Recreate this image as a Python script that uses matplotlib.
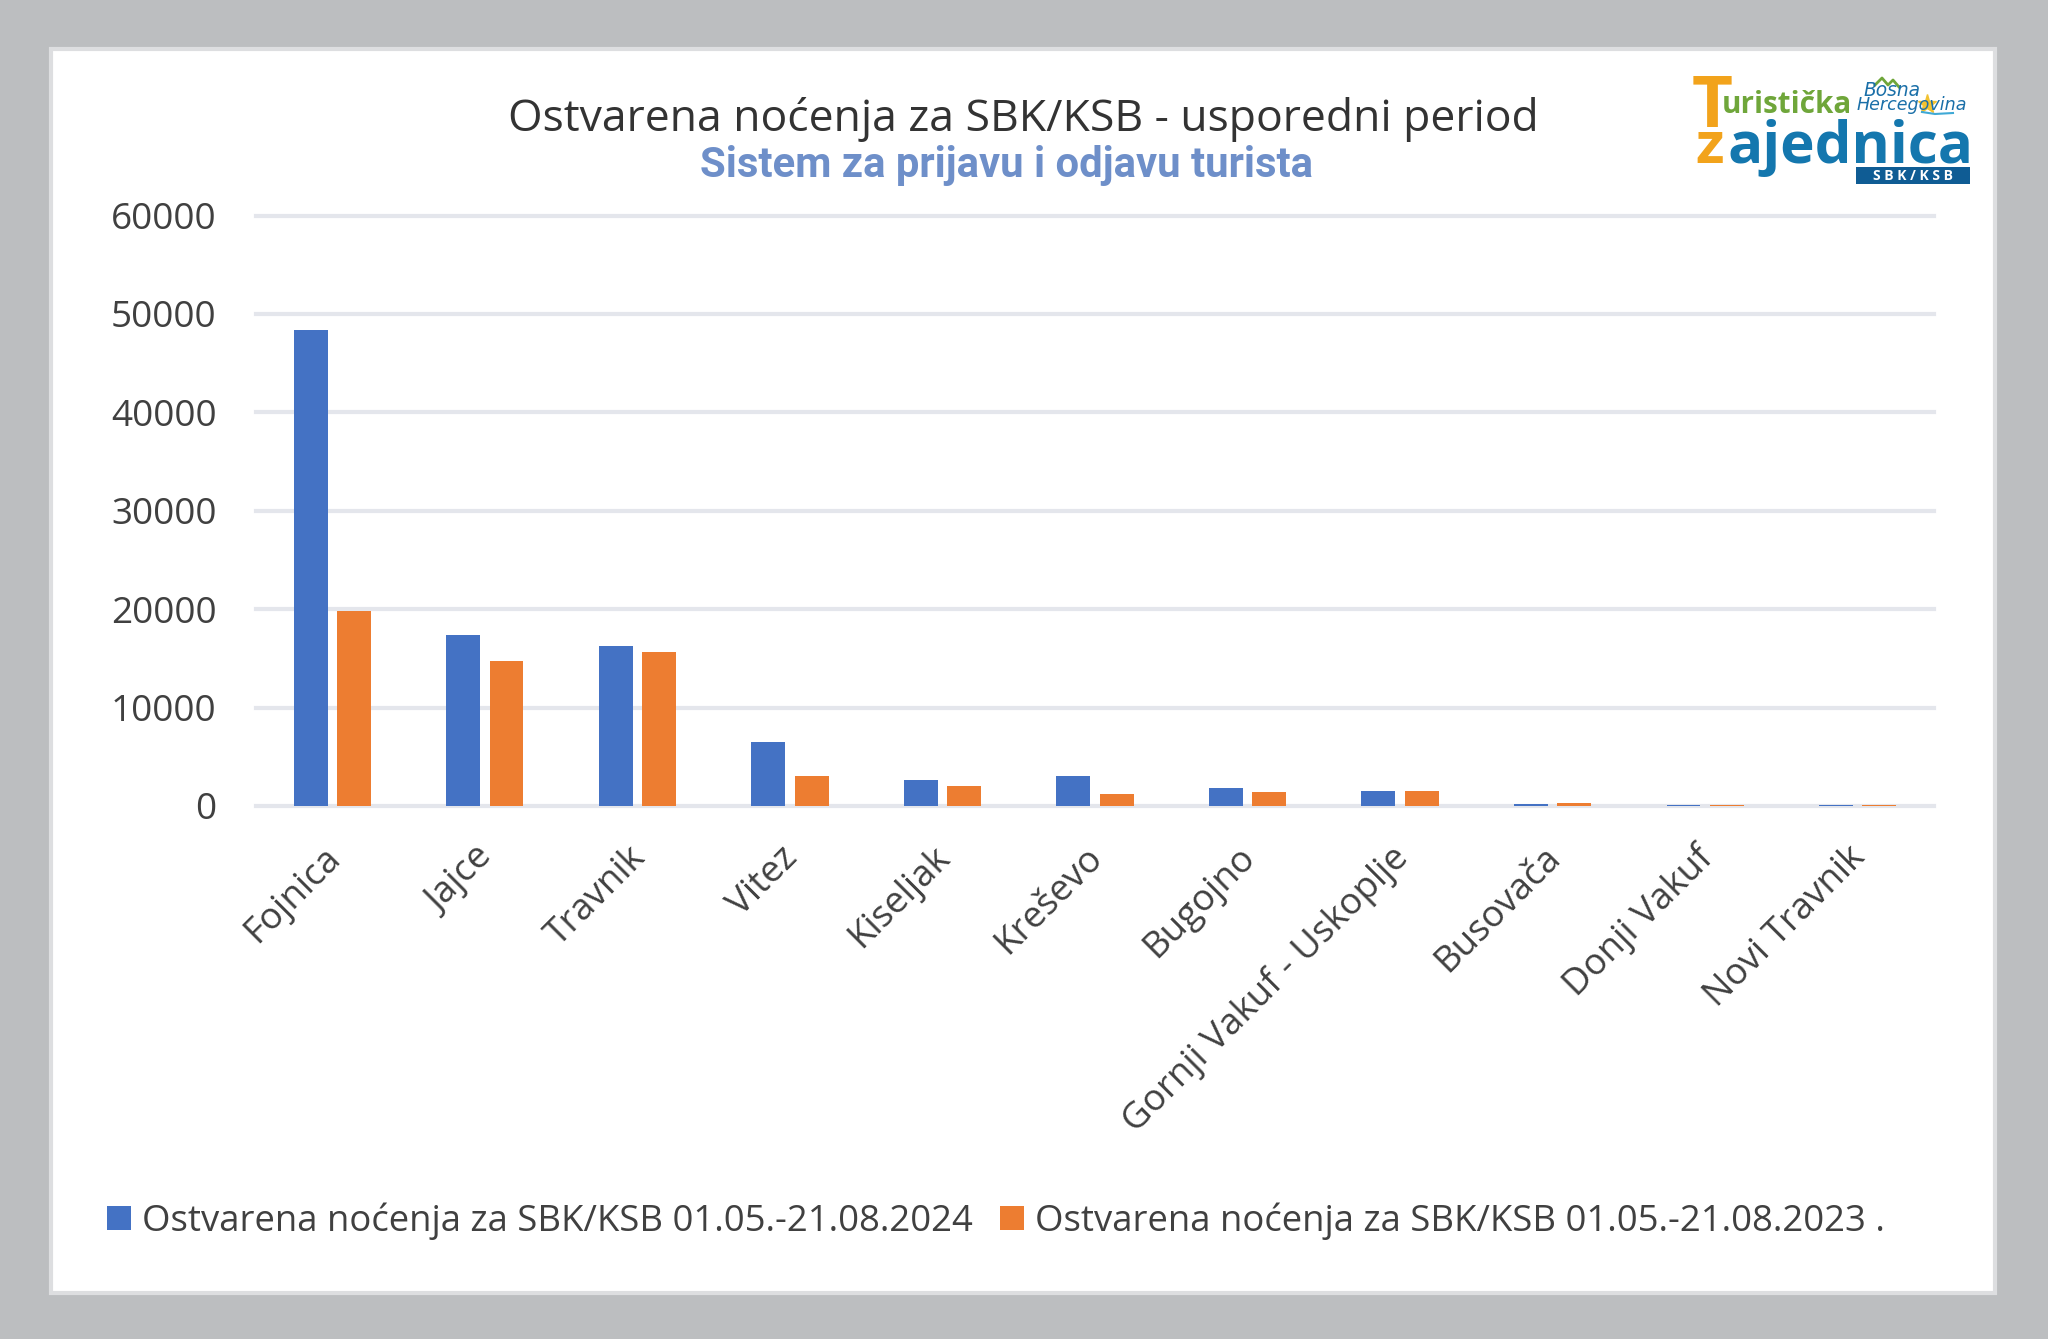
import matplotlib
matplotlib.use("Agg")
import matplotlib.pyplot as plt
from matplotlib.lines import Line2D
from matplotlib.patches import Rectangle
from matplotlib.transforms import ScaledTranslation
import numpy as np

W, H = 2048, 1339
categories = ["Fojnica", "Jajce", "Travnik", "Vitez", "Kiseljak", "Kreševo", "Bugojno",
              "Gornji Vakuf - Uskoplje", "Busovača", "Donji Vakuf", "Novi Travnik"]
values_2024 = [48400, 17400, 16300, 6500, 2600, 3000, 1800, 1500, 250, 100, 100]
values_2023 = [19800, 14700, 15600, 3000, 2000, 1200, 1400, 1500, 300, 100, 100]
y_ticks = [0, 10000, 20000, 30000, 40000, 50000, 60000]
label_2024 = "Ostvarena noćenja za SBK/KSB 01.05.-21.08.2024"
label_2023 = "Ostvarena noćenja za SBK/KSB 01.05.-21.08.2023 ."
title = "Ostvarena noćenja za SBK/KSB - usporedni period"
subtitle = "Sistem za prijavu i odjavu turista"

plt.rcParams['font.family'] = ['Open Sans', 'DejaVu Sans']
fig = plt.figure(figsize=(W/100, H/100), dpi=100, facecolor="#BCBEC0")

def fx(x): return x / W
def fy(y): return 1 - y / H

fig.add_artist(Rectangle((fx(51), fy(1293)), 1944/W, 1244/H, transform=fig.transFigure,
                         facecolor="white", edgecolor="#DDDEE0", linewidth=3, zorder=-1))

ax = fig.add_axes([fx(256), fy(806), (1934-256)/W, (806-215.5)/H])
ax.patch.set_alpha(0)
x = np.arange(len(categories))
bw = 0.222
off = 0.142
ax.bar(x - off, values_2024, bw, color="#4472C4", label=label_2024, zorder=3)
ax.bar(x + off, values_2023, bw, color="#ED7D31", label=label_2023, zorder=3)
ax.set_xlim(-0.5, len(categories) - 0.5)
ax.set_ylim(0, 60000)
ax.set_yticks(y_ticks)
ax.set_yticklabels([str(v) for v in y_ticks], fontsize=26.6, color="#404040")
ax.set_xticks(x)
ax.set_xticklabels(categories, rotation=45, ha="right", va="top", rotation_mode="anchor",
                   fontsize=26.4, color="#404040")
ax.tick_params(length=0, pad=28.5, axis="y")
ax.tick_params(length=0, pad=20, axis="x")
shift = ScaledTranslation(-10/100, -6/100, fig.dpi_scale_trans)
for lab in ax.get_xticklabels():
    lab.set_transform(lab.get_transform() + shift)
ax.grid(axis="y", color="#E4E6EC", linewidth=3, zorder=0)
ax.set_axisbelow(True)
for s in ax.spines.values():
    s.set_visible(False)
for gl in ax.get_ygridlines():
    gl.set_clip_on(False)

fig.text(fx(1023), fy(120), title, ha="center", va="center", fontsize=32, color="#333333")
fig.text(fx(1007), fy(166), subtitle, ha="center", va="center", fontsize=30.2, fontweight="bold",
         color="#6E8FC9", family="Roboto")

leg = ax.legend(loc="center left", bbox_to_anchor=(fx(107), fy(1221)), bbox_transform=fig.transFigure,
                ncol=2, frameon=False, fontsize=26.3, labelcolor="#404040", handlelength=0.65, handleheight=0.65,
                handletextpad=0.3, columnspacing=0.75, borderpad=0, borderaxespad=0)

# logo
fig.text(fx(1692), fy(127), "T", fontsize=51, fontweight="bold", color="#F2A31B", family="Open Sans", va="baseline")
fig.text(fx(1722), fy(113), "uristička", fontsize=21.3, fontweight="bold", color="#6FA63A", family="Open Sans", va="baseline")
fig.text(fx(1695), fy(163), "z", fontsize=42, fontweight="bold", color="#F2A31B", family="Open Sans", va="baseline")
fig.text(fx(1727), fy(163), "ajednica", fontsize=42, fontweight="bold", color="#1477AE", family="Open Sans", va="baseline")
fig.add_artist(Rectangle((fx(1856), fy(184)), 114/W, 17/H, transform=fig.transFigure, facecolor="#0F5C94", edgecolor="none"))
fig.text(fx(1913), fy(175.5), "S B K / K S B", fontsize=10, fontweight="bold", color="white",
         ha="center", va="center", family="Open Sans")
fig.text(fx(1863), fy(96), "Bosna", fontsize=13.4, style="italic", color="#1A6FA8", family="DejaVu Sans")
fig.text(fx(1857), fy(110), "Hercegovina", fontsize=12.6, style="italic", color="#1A6FA8", family="DejaVu Sans")
fig.add_artist(Line2D([fx(1875), fx(1882), fx(1888), fx(1893), fx(1899)],
                      [fy(85), fy(78), fy(85), fy(80), fy(87)],
                      transform=fig.transFigure, color="#6FA63A", linewidth=2))
fig.add_artist(Line2D([fx(1927)], [fy(104)], transform=fig.transFigure, marker="*", markersize=14,
                      color="#F2C230", linestyle="none"))
fig.add_artist(Line2D([fx(1922), fx(1935), fx(1953)], [fy(112), fy(114), fy(113)],
                      transform=fig.transFigure, color="#3FA9D6", linewidth=1.5))

fig.savefig("out.png", dpi=100, facecolor=fig.get_facecolor())
